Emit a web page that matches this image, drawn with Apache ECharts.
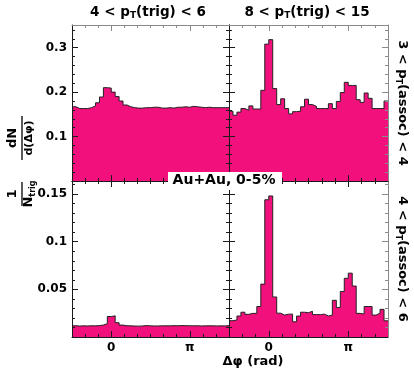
<!DOCTYPE html>
<html><head><meta charset="utf-8">
<script src="https://cdn.jsdelivr.net/npm/echarts@6/dist/echarts.min.js"></script>
<style>html,body{margin:0;padding:0;background:#fff}#c{width:414px;height:371px}</style>
</head><body><div id="c"></div>
<script>
const PI = Math.PI;
const X_MIN = -PI / 2, X_MAX = 3 * PI / 2;

// histogram contents, 40 bins over [-pi/2, 3pi/2]
const topLeft = [0.167,0.163,0.163,0.163,0.165,0.169,0.176,0.189,0.210,0.209,0.200,0.190,0.180,0.171,0.167,0.165,0.164,0.164,0.165,0.165,0.166,0.166,0.164,0.164,0.165,0.164,0.166,0.166,0.167,0.166,0.168,0.167,0.166,0.165,0.166,0.165,0.165,0.165,0.165,0.165];
const topRight = [0.157,0.148,0.155,0.163,0.159,0.169,0.162,0.162,0.204,0.308,0.318,0.208,0.172,0.185,0.163,0.151,0.156,0.157,0.167,0.184,0.172,0.168,0.163,0.163,0.163,0.174,0.163,0.179,0.199,0.222,0.215,0.215,0.183,0.177,0.198,0.186,0.163,0.163,0.163,0.180];
const bottomLeft = [0.0118,0.0115,0.0117,0.0116,0.0118,0.0117,0.0120,0.0125,0.0140,0.0215,0.0222,0.0150,0.0125,0.0118,0.0117,0.0115,0.0114,0.0116,0.0120,0.0117,0.0116,0.0116,0.0117,0.0118,0.0117,0.0119,0.0118,0.0120,0.0119,0.0118,0.0117,0.0118,0.0116,0.0117,0.0118,0.0117,0.0116,0.0117,0.0116,0.0120];
const bottomRight = [0.0171,0.0178,0.022,0.026,0.0238,0.0248,0.0248,0.032,0.0555,0.144,0.148,0.042,0.025,0.023,0.024,0.024,0.016,0.022,0.026,0.0255,0.027,0.0235,0.0235,0.024,0.022,0.023,0.0385,0.031,0.0478,0.0616,0.067,0.0535,0.0248,0.0241,0.032,0.032,0.023,0.025,0.029,0.017];

// axes
const Y_MAX_TOP = 0.351, Y_MAX_BOTTOM = 0.1637;
const yMajorTopValues = [0.1, 0.2, 0.3];
const yMajorTopLabels = ['0.1', '0.2', '0.3'];
const yMajorBottomValues = [0.05, 0.1, 0.15];
const yMajorBottomLabels = ['0.05', '0.1', '0.15'];
const yMinorTopStep = 0.02, yMinorBottomStep = 0.01;
const xMajorValues = [0, PI];
const xMajorLabels = ['0', 'π'];
const xMinorStep = PI / 6;

const FONT = 'DejaVu Sans';
const PINK = '#f2107c';
const DARK = '#1a1a1a';
const GREY = '#8a8a8a';

function stepsOf(step, max) {
  const out = [];
  for (let k = 1; k * step < max - 1e-9; k++) out.push(+(k * step).toFixed(6));
  return out;
}
const xMinorValues = (() => { const o = []; for (let k = 1; k < 12; k++) o.push(X_MIN + k * xMinorStep); return o; })();

const panels = [
  { data: topLeft, grid: { left: 72, top: 25, width: 157, height: 156 }, yMax: Y_MAX_TOP, yMaj: yMajorTopValues, yLab: yMajorTopLabels, yMinStep: yMinorTopStep, leftLabels: true, xLabels: false, rightGrey: false },
  { data: topRight, grid: { left: 229, top: 25, width: 159, height: 156 }, yMax: Y_MAX_TOP, yMaj: yMajorTopValues, yLab: yMajorTopLabels, yMinStep: yMinorTopStep, leftLabels: false, xLabels: false, rightGrey: true },
  { data: bottomLeft, grid: { left: 72, top: 181, width: 157, height: 156 }, yMax: Y_MAX_BOTTOM, yMaj: yMajorBottomValues, yLab: yMajorBottomLabels, yMinStep: yMinorBottomStep, leftLabels: true, xLabels: true, rightGrey: false },
  { data: bottomRight, grid: { left: 229, top: 181, width: 159, height: 156 }, yMax: Y_MAX_BOTTOM, yMaj: yMajorBottomValues, yLab: yMajorBottomLabels, yMinStep: yMinorBottomStep, leftLabels: false, xLabels: true, rightGrey: true },
];

const grids = [], xAxes = [], yAxes = [], series = [];
const labelFont = { fontFamily: FONT, fontWeight: 'bold', fontSize: 12, color: '#000' };

panels.forEach((p, gi) => {
  grids.push(p.grid);
  const mkX = (position, values, len, showLine, lineColor, labels) => {
    xAxes.push({
      type: 'value', gridIndex: gi, position, min: X_MIN, max: X_MAX, z: 10,
      axisLine: { show: showLine, onZero: false, lineStyle: { color: lineColor, width: 1 } },
      axisTick: { show: true, inside: true, length: len, customValues: values, lineStyle: { color: lineColor } },
      axisLabel: labels ? Object.assign({ show: true, margin: 5, customValues: xMajorValues,
        formatter: v => { const i = xMajorValues.findIndex(t => Math.abs(t - v) < 1e-6); return i >= 0 ? xMajorLabels[i] : ''; } }, labelFont)
        : { show: false },
      splitLine: { show: false }
    });
    return xAxes.length - 1;
  };
  const mkY = (position, values, len, showLine, lineColor, labels) => {
    yAxes.push({
      type: 'value', gridIndex: gi, position, min: 0, max: p.yMax, z: 10,
      axisLine: { show: showLine, onZero: false, lineStyle: { color: lineColor, width: 1 } },
      axisTick: { show: true, inside: true, length: len, customValues: values, lineStyle: { color: lineColor } },
      axisLabel: labels ? Object.assign({ show: true, margin: 5, customValues: p.yMaj,
        formatter: v => { const i = p.yMaj.findIndex(t => Math.abs(t - v) < 1e-6); return i >= 0 ? p.yLab[i] : ''; } }, labelFont)
        : { show: false },
      splitLine: { show: false }
    });
    return yAxes.length - 1;
  };
  const xi = mkX('bottom', xMinorValues, 3, true, DARK, false);
  mkX('bottom', xMajorValues, 6, false, DARK, p.xLabels);
  mkX('top', xMinorValues, 3, true, gi < 2 ? GREY : DARK, false);
  mkX('top', xMajorValues, 6, false, gi < 2 ? GREY : DARK, false);
  const yi = mkY('left', stepsOf(p.yMinStep, p.yMax), 3, true, DARK, false);
  mkY('left', p.yMaj, 6, false, DARK, p.leftLabels);
  const rc = p.rightGrey ? GREY : DARK;
  mkY('right', stepsOf(p.yMinStep, p.yMax), 3, true, rc, false);
  mkY('right', p.yMaj, 6, false, rc, false);

  const n = p.data.length;
  const w = (X_MAX - X_MIN) / n;
  const pts = p.data.map((v, i) => [X_MIN + i * w, v]);
  pts.push([X_MAX, p.data[n - 1]]);
  series.push({
    type: 'line', xAxisIndex: xi, yAxisIndex: yi, data: pts, step: 'end',
    symbol: 'none', silent: true, animation: false,
    lineStyle: { color: '#222', width: 1 },
    areaStyle: { color: PINK, opacity: 1 },
    z: 2
  });
});

const rich = (size) => ({
  m: { fontFamily: FONT, fontWeight: 'bold', fontSize: size, lineHeight: size + 2, verticalAlign: 'top', fill: '#000', color: '#000' },
  s: { fontFamily: FONT, fontWeight: 'bold', fontSize: Math.round(size * 0.65), lineHeight: Math.round(size * 0.65) + 1, padding: [Math.round(size * 0.45), 0, 0, 0], verticalAlign: 'top', fill: '#000', color: '#000' }
});
const txt = (x, y, text, size, rot, z) => ({
  type: 'text', x, y, rotation: rot || 0, z: z || 50,
  style: { text, rich: rich(size), fontFamily: FONT, fontWeight: 'bold', fontSize: size, fill: '#000',
    align: 'center', verticalAlign: 'middle', textAlign: 'center', textVerticalAlign: 'middle' }
});

const graphics = [
  txt(148, 13, '{m|4 < p}{s|T}{m|(trig) < 6}', 13.5),
  txt(307, 13, '{m|8 < p}{s|T}{m|(trig) < 15}', 13.5),
  txt(401, 103, '{m|3 < p}{s|T}{m|(assoc) < 4}', 13, -PI / 2),
  txt(401, 259, '{m|4 < p}{s|T}{m|(assoc) < 6}', 13, -PI / 2),
  txt(253, 363, '{m|Δφ (rad)}', 13),
  { type: 'rect', z: 100, shape: { x: 168, y: 172, width: 114, height: 18 }, style: { fill: '#fff' } },
  txt(224, 181, '{m|Au+Au, 0-5%}', 14, 0, 101),
  {
    type: 'group', x: 22, y: 158, rotation: PI / 2, z: 50,
    children: [
      txt(-36, -8, '{m|1}', 13),
      { type: 'line', shape: { x1: -48, y1: 0, x2: -24, y2: 0 }, style: { stroke: '#000', lineWidth: 1.3 } },
      txt(-36, 8, '{m|N}{s|trig}', 13),
      txt(20, -8, '{m|dN}', 13),
      { type: 'line', shape: { x1: -2, y1: 0, x2: 42, y2: 0 }, style: { stroke: '#000', lineWidth: 1.3 } },
      txt(20, 8, '{m|d(Δφ)}', 11)
    ]
  }
];

const chart = echarts.init(document.getElementById('c'), null, { renderer: 'canvas', width: 414, height: 371 });
chart.setOption({
  animation: false,
  backgroundColor: '#fff',
  grid: grids,
  xAxis: xAxes,
  yAxis: yAxes,
  series,
  graphic: { elements: graphics }
});
</script></body></html>
